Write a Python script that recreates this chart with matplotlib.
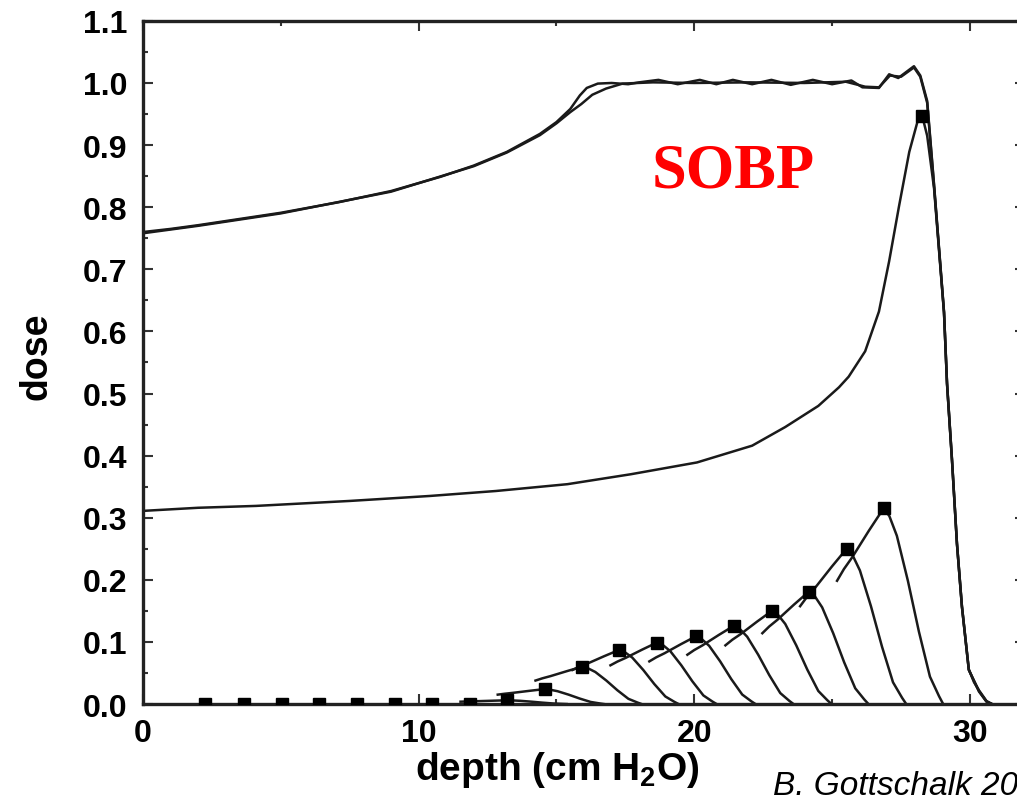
import matplotlib
matplotlib.use("Agg")
import matplotlib.pyplot as plt
from matplotlib.ticker import MultipleLocator, FormatStrFormatter
import numpy as np

plt.rcParams['font.family'] = ['Liberation Sans', 'DejaVu Sans']
plt.rcParams['font.weight'] = 'bold'
plt.rcParams['mathtext.fontset'] = 'custom'
plt.rcParams['mathtext.rm'] = 'Liberation Sans:bold'
plt.rcParams['mathtext.it'] = 'Liberation Sans:bold'
plt.rcParams['mathtext.bf'] = 'Liberation Sans:bold'

# measured SOBP (with ripple)
sobp_depth = [0, 1, 2, 3.5, 5, 7.1, 9, 10.8, 12, 13.2, 14.4, 15.0, 15.5, 15.85,
              16.1, 16.5, 17.0, 17.6, 18.0, 18.7, 19.4, 20.2, 20.8, 21.4, 22.1,
              22.8, 23.5, 24.3, 25.0, 25.7, 26.1, 26.7, 27.07, 27.4, 27.7, 27.97,
              28.2, 28.45, 28.7, 28.88, 29.06, 29.17, 29.35, 29.53, 29.71, 29.96,
              30.15, 30.33, 30.6, 30.8]
sobp_dose = [0.760, 0.765, 0.771, 0.781, 0.791, 0.808, 0.826, 0.849, 0.867, 0.889,
             0.918, 0.937, 0.958, 0.980, 0.992, 0.999, 1.000, 0.998, 1.001, 1.005,
             0.998, 1.005, 0.998, 1.005, 0.998, 1.005, 0.997, 1.005, 0.998, 1.004,
             0.993, 0.992, 1.014, 1.008, 1.018, 1.027, 1.012, 0.971, 0.836, 0.734,
             0.632, 0.517, 0.394, 0.259, 0.158, 0.056, 0.035, 0.022, 0.005, 0.0]

# computed SOBP
calc_depth = [0, 2, 5, 9, 12, 13.2, 14.4, 15.0, 15.5, 15.9, 16.3, 16.8, 17.4, 18.5,
              20.0, 22.0, 24.0, 25.5, 26.2, 26.7, 27.1, 27.5, 27.97, 28.2, 28.45,
              28.7, 28.88, 29.06, 29.17, 29.35, 29.53, 29.71, 29.96, 30.33, 30.6, 30.8]
calc_dose = [0.758, 0.770, 0.790, 0.825, 0.866, 0.888, 0.916, 0.935, 0.953, 0.966,
             0.981, 0.991, 0.999, 1.001, 1.000, 1.001, 1.000, 1.002, 0.994, 0.993,
             1.012, 1.010, 1.025, 1.010, 0.968, 0.834, 0.733, 0.631, 0.516, 0.393,
             0.258, 0.157, 0.055, 0.021, 0.004, 0.0]

# unmodulated Bragg peak
bragg_depth = [0, 2, 4.1, 7.5, 10.4, 12.8, 15.4, 17.7, 20.1, 22.1, 23.3, 24.5, 25.25,
               25.6, 26.2, 26.7, 27.07, 27.43, 27.8, 28.1, 28.27, 28.45, 28.7, 28.88,
               29.06, 29.17, 29.35, 29.53, 29.71, 29.96, 30.33, 30.6, 30.8]
bragg_dose = [0.311, 0.316, 0.319, 0.327, 0.335, 0.343, 0.354, 0.370, 0.389, 0.416,
              0.446, 0.480, 0.510, 0.527, 0.568, 0.632, 0.713, 0.802, 0.889, 0.938,
              0.947, 0.915, 0.830, 0.730, 0.630, 0.515, 0.392, 0.258, 0.157, 0.055,
              0.020, 0.004, 0.0]

# peak positions and weights (squares)
peak_depth = [2.25, 3.66, 5.04, 6.38, 7.75, 9.13, 10.47, 11.85, 13.22, 14.57, 15.94,
              17.28, 18.66, 20.07, 21.45, 22.83, 24.17, 25.54, 26.88, 28.27]
peak_weight = [0, 0, 0, 0, 0, 0, 0, 0, 0.006, 0.024, 0.060, 0.087, 0.099, 0.109,
               0.126, 0.150, 0.181, 0.250, 0.315, 0.947]

# shape of one weighted peak, read from the deepest small one (offset cm, fraction of peak)
shape_offset = [-1.7, -1.45, -1.15, -0.55, -0.2, 0, 0.2, 0.47, 0.87, 1.27, 1.67, 2.0, 2.15]
shape_frac = [0.63, 0.69, 0.75, 0.885, 0.96, 1.0, 0.96, 0.86, 0.63, 0.37, 0.14, 0.04, 0.0]

line_kw = dict(color='#1a1a1a', lw=1.8, solid_joinstyle='round')

fig = plt.figure(figsize=(10.17, 8.04), dpi=100)
ax = fig.add_axes([0.1406, 0.1231, 0.8673, 0.8497])

ax.plot(sobp_depth, sobp_dose, **line_kw)
ax.plot(calc_depth, calc_dose, **line_kw)
ax.plot(bragg_depth, bragg_dose, **line_kw)

so = np.array(shape_offset)
sf = np.array(shape_frac)
for d, w in zip(peak_depth[:-1], peak_weight[:-1]):
    if w > 0:
        ax.plot(d + so, w * sf, **line_kw)

ax.plot(peak_depth, peak_weight, 's', color='black', ms=8.5, zorder=5)

ax.text(18.47, 0.834, 'SOBP', color='#ff0000', fontsize=45, fontweight='bold',
        family='Liberation Serif', ha='left', va='baseline')

ax.set_xlim(0, 32)
ax.set_ylim(0, 1.1)
ax.xaxis.set_major_locator(MultipleLocator(10))
ax.xaxis.set_minor_locator(MultipleLocator(5))
ax.yaxis.set_major_locator(MultipleLocator(0.1))
ax.yaxis.set_minor_locator(MultipleLocator(0.05))
ax.yaxis.set_major_formatter(FormatStrFormatter('%.1f'))
ax.xaxis.set_major_formatter(FormatStrFormatter('%d'))

ax.tick_params(which='both', direction='in', top=True, right=True, width=1.5, color='#333333')
ax.tick_params(which='major', length=7, labelsize=23)
ax.tick_params(which='minor', length=3.5)
ax.tick_params(axis='y', pad=11)
ax.tick_params(axis='x', pad=10)
for s in ax.spines.values():
    s.set_linewidth(2.4)
    s.set_color('#222222')

ax.set_xlabel('depth (cm H$_2$O)', fontsize=28, fontweight='bold')
ax.xaxis.set_label_coords(0.47, -0.066)
ax.set_ylabel('dose', fontsize=27, fontweight='bold')
ax.yaxis.set_label_coords(-0.10, 0.51)

fig.text(0.760, 0.011, 'B. Gottschalk 2004', fontsize=24, fontweight='normal',
         style='italic', ha='left', va='baseline')

fig.savefig('out.png', dpi=100, facecolor='white')
